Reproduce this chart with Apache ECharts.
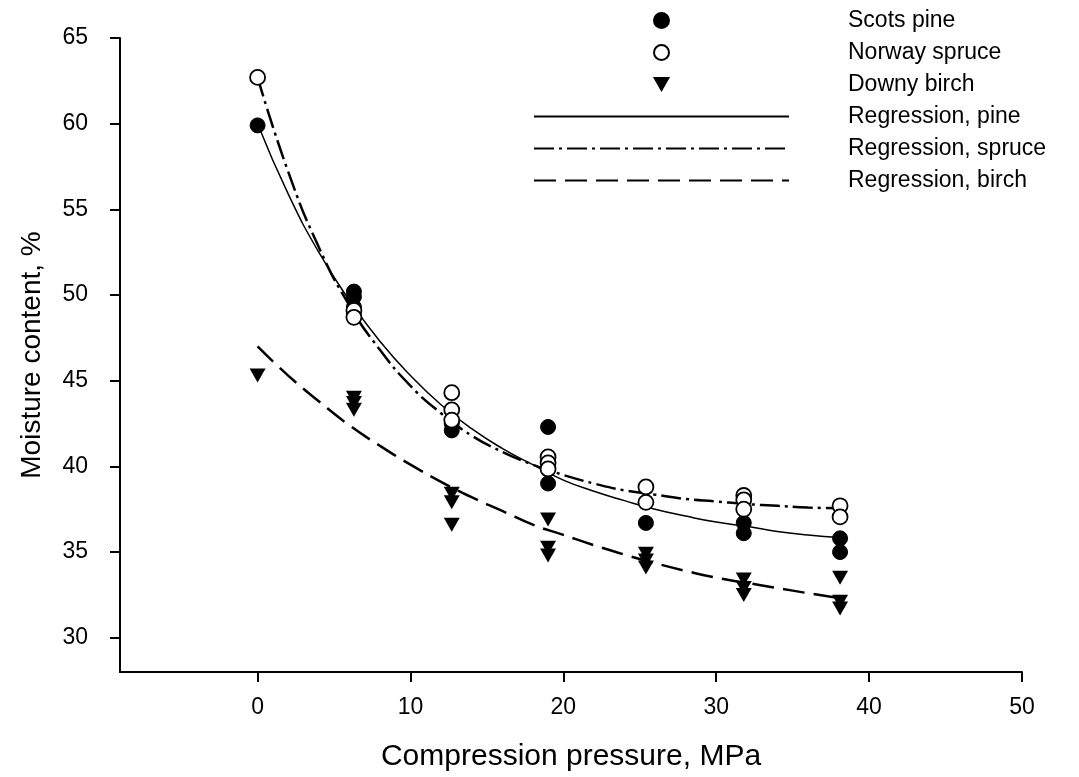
<!DOCTYPE html>
<html>
<head>
<meta charset="utf-8">
<script src="https://cdn.jsdelivr.net/npm/echarts@6/dist/echarts.min.js"></script>
<style>
  html, body { margin: 0; padding: 0; background: #fff; }
  #chart { width: 1079px; height: 777px; }
</style>
</head>
<body>
<div id="chart"></div>
<script>
// measured points, x = pressure (MPa), y = moisture (%)
var pineData = [
  [0, 59.9],
  [6.3, 50.2], [6.3, 49.9], [6.3, 49.3],
  [12.7, 42.5], [12.7, 42.1],
  [19, 42.3], [19, 39.0],
  [25.4, 36.7],
  [31.8, 36.7], [31.8, 36.1],
  [38.1, 35.8], [38.1, 35.0]
];
var spruceData = [
  [0, 62.7],
  [6.3, 49.1], [6.3, 48.7],
  [12.7, 44.3], [12.7, 43.3], [12.7, 42.7],
  [19, 40.55], [19, 40.2], [19, 39.85],
  [25.4, 38.8], [25.4, 37.9],
  [31.8, 38.3], [31.8, 38.05], [31.8, 37.5],
  [38.1, 37.7], [38.1, 37.05]
];
var birchData = [
  [0, 45.3],
  [6.3, 44.0], [6.3, 43.7], [6.3, 43.3],
  [12.7, 38.4], [12.7, 37.9], [12.7, 36.6],
  [19, 36.9], [19, 35.25], [19, 34.8],
  [25.4, 34.9], [25.4, 34.5], [25.4, 34.1],
  [31.8, 33.4], [31.8, 32.9], [31.8, 32.5],
  [38.1, 33.5], [38.1, 32.1], [38.1, 31.7]
];

// regression curves
var curveX = [0, 2, 4, 6, 8, 10, 12, 14, 16, 18, 20, 22, 24, 26, 28, 30, 32, 34, 36, 38.1];
var pineFit   = [60.0, 55.9, 52.5, 49.7, 47.3, 45.3, 43.6, 42.2, 41.05, 40.1, 39.2, 38.55, 38.0, 37.5, 37.1, 36.75, 36.5, 36.2, 36.0, 35.85];
var spruceFit = [62.7, 57.2, 52.8, 49.4, 46.8, 44.7, 43.1, 41.8, 40.85, 40.1, 39.5, 39.0, 38.6, 38.35, 38.1, 37.95, 37.8, 37.7, 37.6, 37.55];
var birchFit  = [47.0, 45.3, 43.8, 42.4, 41.2, 40.1, 39.1, 38.2, 37.4, 36.6, 36.0, 35.4, 34.85, 34.35, 33.9, 33.5, 33.2, 32.9, 32.6, 32.3];

var xTicks = [0, 10, 20, 30, 40, 50];
var yTicks = [30, 35, 40, 45, 50, 55, 60, 65];

function pairs(xs, ys) {
  return xs.map(function (x, i) { return [x, ys[i]]; });
}

var myChart = echarts.init(document.getElementById('chart'));
var font = 'Liberation Sans, Arial, sans-serif';
var noSymbol = { color: 'rgba(0,0,0,0)', opacity: 0 };

option = {
  backgroundColor: '#fff',
  animation: false,
  textStyle: { fontFamily: font, color: '#000' },
  grid: { left: 120, right: 57, top: 38, bottom: 105 },
  legend: {
    orient: 'vertical',
    left: 528,
    top: 4,
    itemWidth: 255,
    itemHeight: 15,
    itemGap: 9,
    selectedMode: false,
    symbolKeepAspect: true,
    textStyle: { fontSize: 23, fontFamily: font, color: '#000', padding: [0, 0, 0, 54] },
    data: [
      { name: 'Scots pine', icon: 'circle' },
      { name: 'Norway spruce', icon: 'circle' },
      { name: 'Downy birch', icon: 'path://M0,0 L16,0 L8,14 Z' },
      { name: 'Regression, pine', itemStyle: noSymbol },
      { name: 'Regression, spruce', itemStyle: noSymbol },
      { name: 'Regression, birch', itemStyle: noSymbol }
    ]
  },
  xAxis: {
    type: 'value',
    min: -9,
    max: 50,
    name: 'Compression pressure, MPa',
    nameLocation: 'middle',
    nameGap: 70,
    nameTextStyle: { fontSize: 30, fontFamily: font, color: '#000' },
    splitLine: { show: false },
    axisLine: { onZero: false, lineStyle: { color: '#000', width: 2 } },
    axisTick: { show: true, length: 10, inside: false, customValues: xTicks, lineStyle: { width: 2, color: '#000' } },
    axisLabel: { fontSize: 23, color: '#000', margin: 24, customValues: xTicks }
  },
  yAxis: {
    type: 'value',
    min: 28,
    max: 65,
    name: 'Moisture content, %',
    nameLocation: 'middle',
    nameGap: 74,
    nameTextStyle: { fontSize: 28, fontFamily: font, color: '#000' },
    splitLine: { show: false },
    axisLine: { show: true, onZero: false, lineStyle: { color: '#000', width: 2 } },
    axisTick: { show: true, length: 10, inside: false, customValues: yTicks, lineStyle: { width: 2, color: '#000' } },
    axisLabel: { fontSize: 23, color: '#000', margin: 32, customValues: yTicks }
  },
  series: [
    {
      name: 'Regression, pine',
      type: 'line',
      data: pairs(curveX, pineFit),
      smooth: true,
      symbol: 'none',
      itemStyle: noSymbol,
      lineStyle: { color: '#000', width: 1.5, type: 'solid' },
      z: 2
    },
    {
      name: 'Regression, spruce',
      type: 'line',
      data: pairs(curveX, spruceFit),
      smooth: true,
      symbol: 'none',
      itemStyle: noSymbol,
      lineStyle: { color: '#000', width: 2.5, type: [20, 5, 3, 5] },
      z: 2
    },
    {
      name: 'Regression, birch',
      type: 'line',
      data: pairs(curveX, birchFit),
      smooth: true,
      symbol: 'none',
      itemStyle: noSymbol,
      lineStyle: { color: '#000', width: 2.5, type: [22, 9] },
      z: 2
    },
    {
      name: 'Scots pine',
      type: 'scatter',
      data: pineData,
      symbol: 'circle',
      symbolSize: 15,
      itemStyle: { color: '#000', borderColor: '#000', borderWidth: 1, opacity: 1 },
      z: 3
    },
    {
      name: 'Norway spruce',
      type: 'scatter',
      data: spruceData,
      symbol: 'circle',
      symbolSize: 15,
      itemStyle: { color: '#fff', borderColor: '#000', borderWidth: 1.8, opacity: 1 },
      z: 4
    },
    {
      name: 'Downy birch',
      type: 'scatter',
      data: birchData,
      symbol: 'triangle',
      symbolRotate: 180,
      symbolSize: [16, 14],
      itemStyle: { color: '#000', opacity: 1 },
      z: 3
    }
  ]
};
myChart.setOption(option);
</script>
</body>
</html>
